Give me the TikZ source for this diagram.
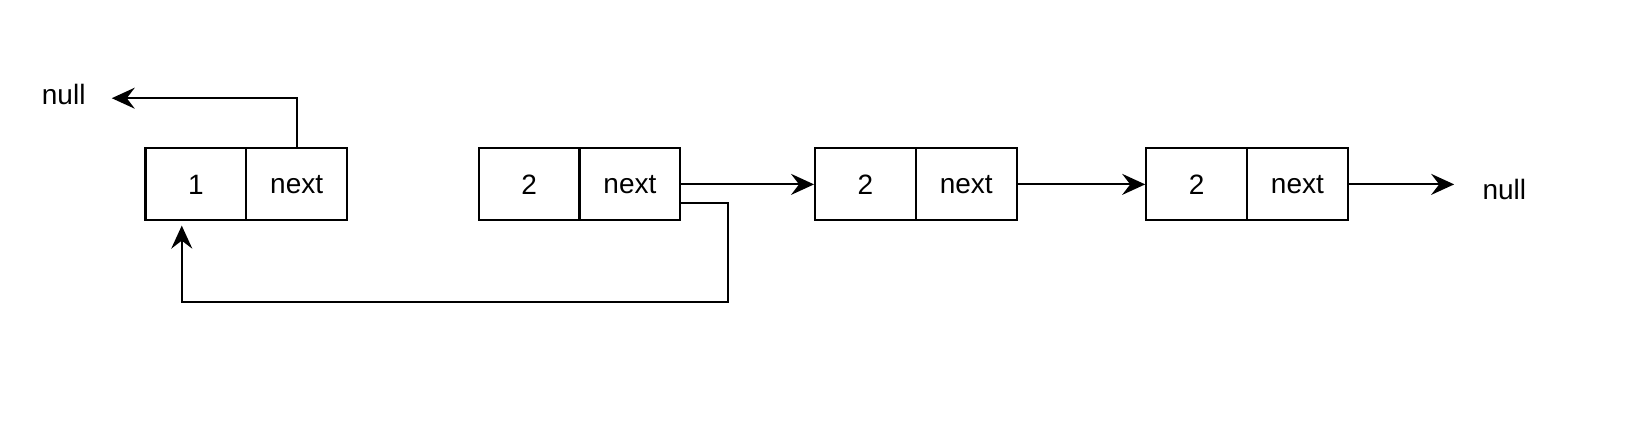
\documentclass[tikz,border=0pt]{standalone}
\usepackage{fontspec}
\setmainfont{Liberation Sans}
\usetikzlibrary{arrows.meta,calc}
\begin{document}
\begin{tikzpicture}[x=1.0446pt,y=-1.0446pt,
  cell/.style={draw,line width=2.1pt,minimum width=100.8pt,minimum height=72.1pt,inner sep=0pt,font=\fontsize{28}{32}\selectfont},
  lbl/.style={inner sep=0pt,font=\fontsize{28}{32}\selectfont},
  conn/.style={line width=2.1pt,-{Stealth[length=23pt,width=21pt,inset=8pt]}}]
\useasboundingbox (0,0) rectangle (1568,415.5);
\node[cell] (a1) at (187.5,176.5) {1};
\node[cell] (a2) at (284,176.5) {next};
\node[cell] (b1) at (506.5,176.5) {2};
\node[cell] (b2) at (603,176.5) {next};
\node[cell] (c1) at (828.5,176.5) {2};
\node[cell] (c2) at (925,176.5) {next};
\node[cell] (d1) at (1145.5,176.5) {2};
\node[cell] (d2) at (1242,176.5) {next};
\node[lbl] (nl) at (61,90) {null};
\node[lbl] (nr) at (1440,181) {null};
\coordinate (nltip) at (107,94);
\coordinate (nrtip) at (1392,176.5);
\coordinate (loopstart) at (651,194);
\coordinate (looptip) at (174,216);
\draw[conn] (a2.north) |- (nltip);
\draw[conn] (b2.east) -- (c1.west);
\draw[conn] (c2.east) -- (d1.west);
\draw[conn] (d2.east) -- (nrtip);
\draw[conn] (loopstart) -- (697,194) -- (697,289) -- (174,289) -- (looptip);
\end{tikzpicture}
\end{document}
